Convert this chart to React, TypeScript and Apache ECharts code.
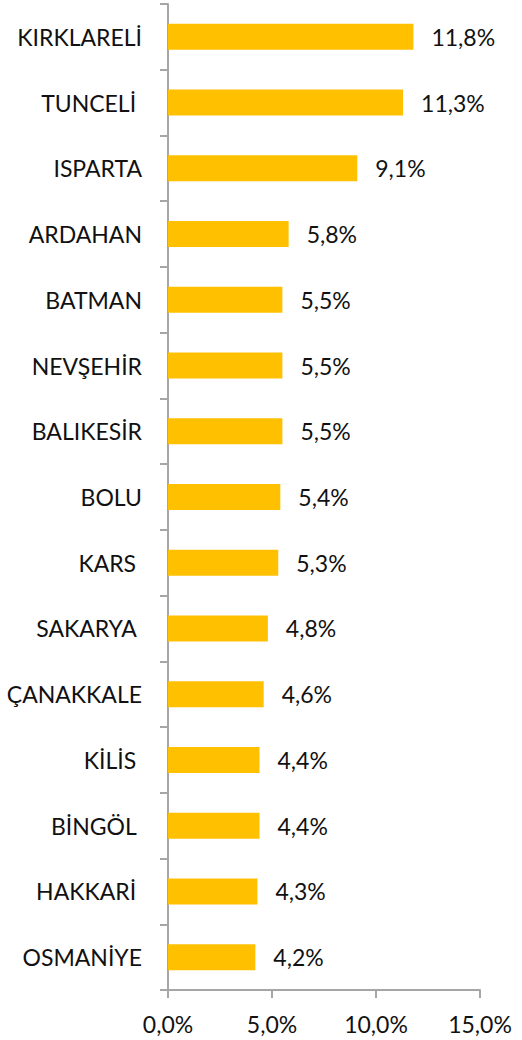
import React, { useEffect, useRef } from "react";
import * as echarts from "echarts";

const categories = [
  "KIRKLARELİ",
  "TUNCELİ ",
  "ISPARTA",
  "ARDAHAN",
  "BATMAN",
  "NEVŞEHİR",
  "BALIKESİR",
  "BOLU",
  "KARS ",
  "SAKARYA ",
  "ÇANAKKALE",
  "KİLİS ",
  "BİNGÖL ",
  "HAKKARİ ",
  "OSMANİYE",
];
const values = [11.8, 11.3, 9.1, 5.8, 5.5, 5.5, 5.5, 5.4, 5.3, 4.8, 4.6, 4.4, 4.4, 4.3, 4.2];

const fmt = (v: number) => v.toFixed(1).replace(".", ",") + "%";

export default function App() {
  const ref = useRef<HTMLDivElement>(null);
  useEffect(() => {
    if (!ref.current) return;
    const chart = echarts.init(ref.current, null, { renderer: "svg" });
    const axisLine = { show: true, lineStyle: { color: "#a6a6a6", width: 2 } };
    chart.setOption({
      animation: false,
      textStyle: { fontFamily: "Lato, sans-serif" },
      grid: { left: 168, right: 42, top: 4, bottom: 50, containLabel: false },
      xAxis: {
        type: "value",
        min: 0,
        max: 15,
        interval: 5,
        axisLine,
        axisTick: { show: true, length: 8, lineStyle: { color: "#a6a6a6", width: 2 } },
        splitLine: { show: false },
        axisLabel: {
          margin: 22,
          fontSize: 23,
          color: "#111",
          fontFamily: "Lato, sans-serif",
          formatter: (v: number) => fmt(v),
        },
      },
      yAxis: {
        type: "category",
        inverse: true,
        data: categories,
        axisLine,
        axisTick: { show: true, length: 8, lineStyle: { color: "#a6a6a6", width: 2 } },
        axisLabel: {
          margin: 26,
          fontSize: 23,
          color: "#111",
          fontFamily: "Lato, sans-serif",
        },
      },
      series: [
        {
          type: "bar",
          data: values,
          barWidth: 26,
          itemStyle: { color: "#ffc000" },
          label: {
            show: true,
            position: "right",
            distance: 18,
            fontSize: 23,
            color: "#111",
            fontFamily: "Lato, sans-serif",
            formatter: (p: any) => fmt(p.value),
          },
        },
      ],
    });
    return () => chart.dispose();
  }, []);
  return <div ref={ref} style={{ width: 522, height: 1040, position: "absolute", left: 0, top: 0 }} />;
}
